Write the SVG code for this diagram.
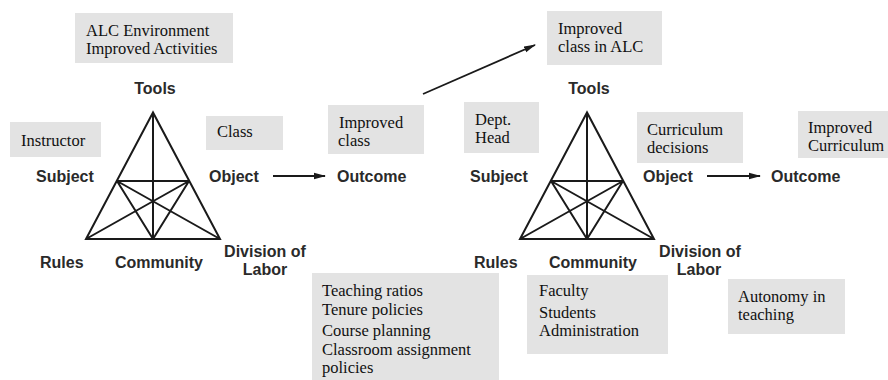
<svg xmlns="http://www.w3.org/2000/svg" width="888" height="380" viewBox="0 0 888 380">
<style>
.box{fill:#e3e3e3;stroke:none}
.bt{font-family:"Liberation Serif","Times New Roman",serif;font-size:16.5px;fill:#111}
.lb{font-family:"Liberation Sans",Arial,sans-serif;font-size:16px;font-weight:bold;fill:#2a2a2a}
.tri{fill:none;stroke:#1a1a1a;stroke-width:2;stroke-linejoin:miter}
.conn{stroke:#1a1a1a;stroke-width:1.8;fill:none}
</style>
<defs>
<marker id="ah" viewBox="0 0 12 8" refX="11" refY="4" markerWidth="12" markerHeight="8" markerUnits="userSpaceOnUse" orient="auto">
<path d="M0,0.8 L12,4 L0,7.2 Z" fill="#1a1a1a"/>
</marker>
<g id="star">
<path class="tri" d="M0,0 L-67,126.5 L67,126.5 Z M0,0 L0,126.5 M-36,68.5 L36,68.5 M-36,68.5 L0,126.5 M-36,68.5 L67,126.5 M36,68.5 L0,126.5 M36,68.5 L-67,126.5"/>
</g>
</defs>
<rect width="888" height="380" fill="#fff"/>

<g id="left-triangle"><use href="#star" x="153" y="112.5"/></g>
<g id="right-triangle"><use href="#star" x="587" y="112.5"/></g>

<g id="left-labels">
<text class="lb" x="155" y="94" text-anchor="middle">Tools</text>
<text class="lb" x="36" y="182">Subject</text>
<text class="lb" x="209" y="182">Object</text>
<text class="lb" x="337" y="182">Outcome</text>
<text class="lb" x="40" y="268">Rules</text>
<text class="lb" x="115" y="268">Community</text>
<text class="lb" x="265" y="257" text-anchor="middle">Division of</text>
<text class="lb" x="265" y="275" text-anchor="middle">Labor</text>
</g>

<g id="right-labels">
<text class="lb" x="589" y="94" text-anchor="middle">Tools</text>
<text class="lb" x="470" y="182">Subject</text>
<text class="lb" x="643" y="182">Object</text>
<text class="lb" x="771" y="182">Outcome</text>
<text class="lb" x="474" y="268">Rules</text>
<text class="lb" x="549" y="268">Community</text>
<text class="lb" x="700" y="257" text-anchor="middle">Division of</text>
<text class="lb" x="699" y="275" text-anchor="middle">Labor</text>
</g>

<g id="connectors">
<line class="conn" x1="273" y1="176" x2="325" y2="176" marker-end="url(#ah)"/>
<line class="conn" x1="707" y1="176" x2="760" y2="176" marker-end="url(#ah)"/>
<line class="conn" x1="423" y1="94" x2="535" y2="45" marker-end="url(#ah)"/>
</g>

<g id="box-alc-environment">
<rect class="box" x="75" y="13" width="158" height="50"/>
<text class="bt" x="86" y="36">ALC Environment</text>
<text class="bt" x="86" y="54">Improved Activities</text>
</g>
<g id="box-instructor">
<rect class="box" x="10" y="122" width="91" height="35"/>
<text class="bt" x="21" y="146">Instructor</text>
</g>
<g id="box-class">
<rect class="box" x="206" y="116" width="77" height="34"/>
<text class="bt" x="217" y="137">Class</text>
</g>
<g id="box-improved-class">
<rect class="box" x="328" y="105" width="96" height="49"/>
<text class="bt" x="339" y="128">Improved</text>
<text class="bt" x="338" y="146">class</text>
</g>
<g id="box-improved-class-alc">
<rect class="box" x="547" y="11" width="115" height="54"/>
<text class="bt" x="558" y="34">Improved</text>
<text class="bt" x="558" y="52">class in ALC</text>
</g>
<g id="box-dept-head">
<rect class="box" x="464" y="102" width="75" height="51"/>
<text class="bt" x="475" y="125">Dept.</text>
<text class="bt" x="475" y="143">Head</text>
</g>
<g id="box-curriculum-decisions">
<rect class="box" x="637" y="112" width="106" height="51"/>
<text class="bt" x="647" y="135">Curriculum</text>
<text class="bt" x="647" y="153">decisions</text>
</g>
<g id="box-improved-curriculum">
<rect class="box" x="798" y="111" width="90" height="47"/>
<text class="bt" x="808" y="133">Improved</text>
<text class="bt" x="808" y="151">Curriculum</text>
</g>
<g id="box-rules">
<rect class="box" x="312" y="273" width="187" height="107"/>
<text class="bt" x="322" y="296">Teaching ratios</text>
<text class="bt" x="322" y="315">Tenure policies</text>
<text class="bt" x="322" y="336">Course planning</text>
<text class="bt" x="322" y="355">Classroom assignment</text>
<text class="bt" x="322" y="373">policies</text>
</g>
<g id="box-community">
<rect class="box" x="527" y="275" width="141" height="79"/>
<text class="bt" x="539" y="296">Faculty</text>
<text class="bt" x="539" y="318">Students</text>
<text class="bt" x="539" y="336">Administration</text>
</g>
<g id="box-autonomy">
<rect class="box" x="728" y="279" width="117" height="55"/>
<text class="bt" x="738" y="302">Autonomy in</text>
<text class="bt" x="738" y="320">teaching</text>
</g>
</svg>
